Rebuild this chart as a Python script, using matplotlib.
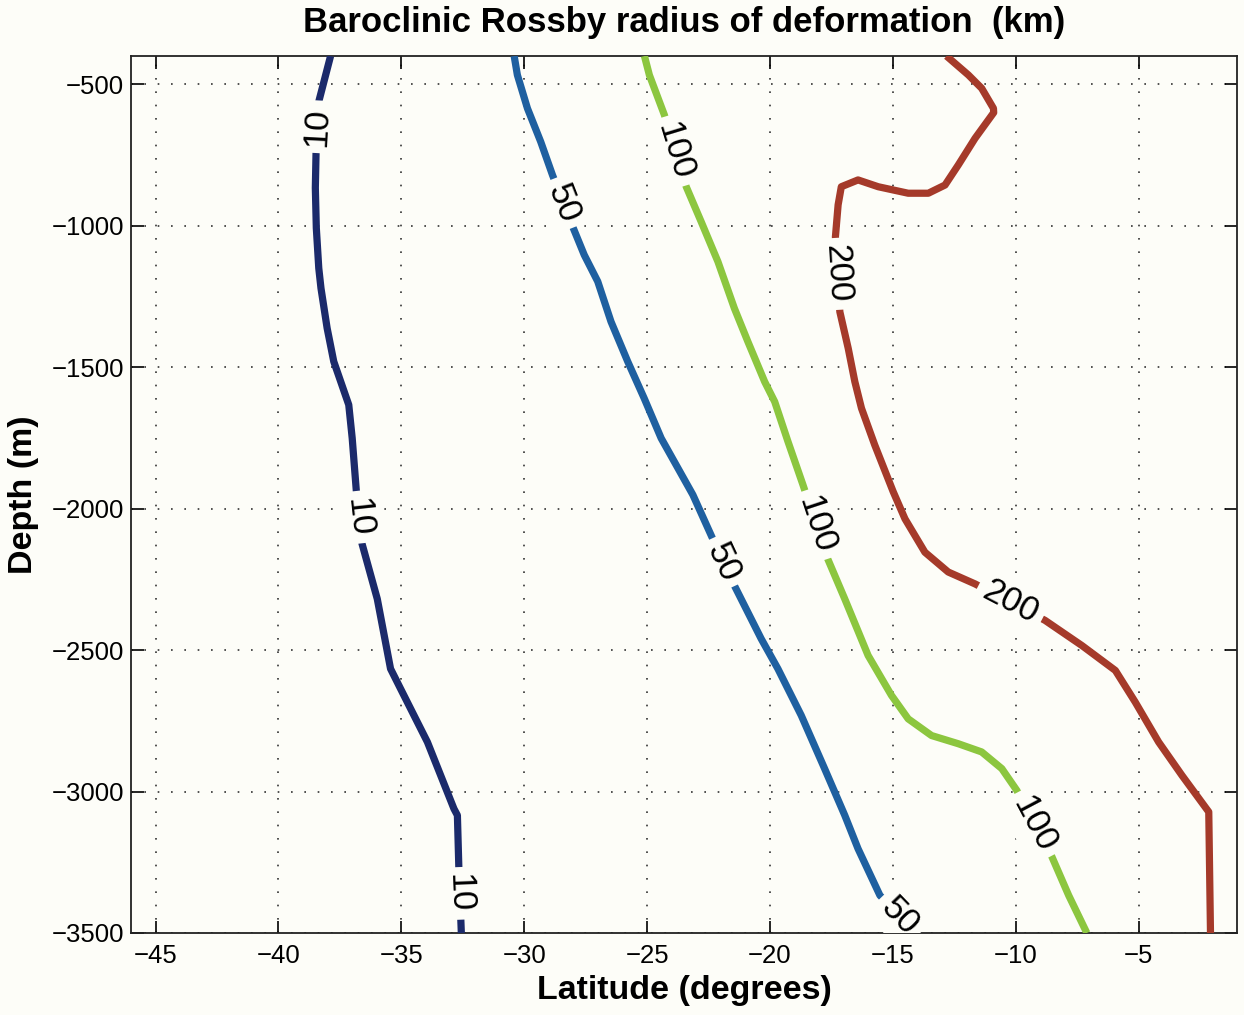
import numpy as np
import matplotlib
matplotlib.use("Agg")
import matplotlib.pyplot as plt

# ---- data (latitude in degrees, depth in m) ----
lat_10 = [-37.88, -38.36, -38.47, -38.50, -38.46, -38.36, -38.27, -38.02, -37.75, -37.14, -37.00, -36.83,
          -36.60, -35.98, -35.44, -35.03, -33.94, -32.86, -32.72, -32.66, -32.56]
dep_10 = [-400, -561, -738, -866, -1008, -1150, -1221, -1362, -1480, -1633, -1751, -1940,
          -2124, -2319, -2566, -2637, -2825, -3061, -3084, -3273, -3500]

lat_50 = [-30.41, -30.28, -29.87, -29.33, -28.85, -28.03, -27.56, -27.01, -26.47, -25.79, -25.12, -24.43,
          -23.14, -22.33, -21.45, -20.36, -19.68, -18.73, -17.78, -16.96, -16.42, -15.53, -14.05]
dep_50 = [-400, -467, -585, -703, -821, -1003, -1103, -1197, -1339, -1480, -1610, -1751,
          -1951, -2107, -2272, -2460, -2566, -2731, -2919, -3084, -3202, -3367, -3500]

lat_100 = [-25.11, -24.91, -24.30, -23.41, -22.80, -22.12, -21.45, -20.90, -20.22, -19.81, -19.27, -18.66,
           -17.71, -16.96, -16.01, -15.06, -14.38, -13.43, -12.34, -11.39, -10.57, -9.96, -8.53, -7.85, -7.11]
dep_100 = [-400, -467, -608, -862, -986, -1127, -1292, -1410, -1551, -1622, -1763, -1916,
           -2166, -2319, -2519, -2660, -2743, -2802, -2831, -2860, -2919, -2996, -3231, -3367, -3500]

lat_200 = [-12.82, -11.93, -11.39, -10.91, -10.90, -11.66, -12.34, -12.88, -13.56, -14.38, -15.60, -16.42,
           -17.10, -17.23, -17.34, -17.16, -16.82, -16.55, -16.28, -15.74, -14.99, -14.51, -13.70, -12.75,
           -11.66, -8.81, -7.31, -5.95, -5.14, -4.19, -3.24, -2.15, -2.08]
dep_200 = [-400, -467, -514, -585, -600, -691, -785, -856, -885, -885, -862, -838,
           -862, -926, -1039, -1304, -1433, -1551, -1645, -1775, -1940, -2036, -2154, -2224,
           -2266, -2395, -2484, -2572, -2684, -2825, -2943, -3072, -3500]

levels = ["10", "50", "100", "200"]
label_depths = {
    "10": [-650, -2030, -3360],
    "50": [-920, -2189, -3440],
    "100": [-736, -2057, -3115],
    "200": [-1170, -2331],
}
colors = {"10": "#1b2a6b", "50": "#1f60a0", "100": "#8cc63f", "200": "#a53a2a"}

x_ticks = [-45, -40, -35, -30, -25, -20, -15, -10, -5]
y_ticks = [-3500, -3000, -2500, -2000, -1500, -1000, -500]

plt.rcParams['font.family'] = ['Liberation Sans', 'DejaVu Sans']

bg = "#fdfdf8"
fig = plt.figure(figsize=(12.44, 10.15), dpi=100, facecolor=bg)
ax = fig.add_axes([0.1053, 0.0808, 0.8891, 0.864])
ax.set_facecolor(bg)

series = {"10": (lat_10, dep_10), "50": (lat_50, dep_50),
          "100": (lat_100, dep_100), "200": (lat_200, dep_200)}

ax.set_xlim(-46, -1)
ax.set_ylim(-3500, -400)
ax.set_xticks(x_ticks)
ax.set_yticks(y_ticks)
ax.set_xticklabels([f"\u2212{abs(v)}" for v in x_ticks])
ax.set_yticklabels([f"\u2212{abs(v)}" for v in y_ticks])
ax.tick_params(direction='in', length=9, width=1.2, top=True, right=True,
               labelsize=18.5, pad=8)
ax.tick_params(axis='y', pad=5)
ax.grid(True, color='#333333', linestyle=(0, (1, 7)), linewidth=1.2)
for s in ax.spines.values():
    s.set_linewidth(1.3)
    s.set_color('#222222')

for lv in levels:
    xs, ys = series[lv]
    ax.plot(xs, ys, color=colors[lv], lw=5.2, solid_capstyle='butt', zorder=3)

fig.canvas.draw()

def locate(xs, ys, target):
    for i in range(len(ys) - 1):
        y0, y1 = ys[i], ys[i + 1]
        if (y0 - target) * (y1 - target) <= 0 and y0 != y1:
            t = (target - y0) / (y1 - y0)
            x = xs[i] + t * (xs[i + 1] - xs[i])
            p0 = ax.transData.transform((xs[i], y0))
            p1 = ax.transData.transform((xs[i + 1], y1))
            ang = np.degrees(np.arctan2(p1[1] - p0[1], p1[0] - p0[0]))
            while ang > 90:
                ang -= 180
            while ang <= -90:
                ang += 180
            return x, target, ang
    return None

for lv in levels:
    xs, ys = series[lv]
    for dval in label_depths[lv]:
        res = locate(xs, ys, dval)
        if res is None:
            continue
        x, y, ang = res
        ax.text(x, y, lv, rotation=ang, rotation_mode='anchor', ha='center', va='center',
                fontsize=25, color='black', zorder=4, clip_on=True,
                bbox=dict(facecolor=bg, edgecolor='none', pad=5))

ax.set_title("Baroclinic Rossby radius of deformation  (km)", fontsize=25,
             fontweight='bold', pad=17)
ax.set_xlabel("Latitude (degrees)", fontsize=24.5, fontweight='bold', labelpad=5)
ax.set_ylabel("Depth (m)", fontsize=24.5, fontweight='bold', labelpad=9)

fig.savefig("out.png", dpi=100, facecolor=bg)
